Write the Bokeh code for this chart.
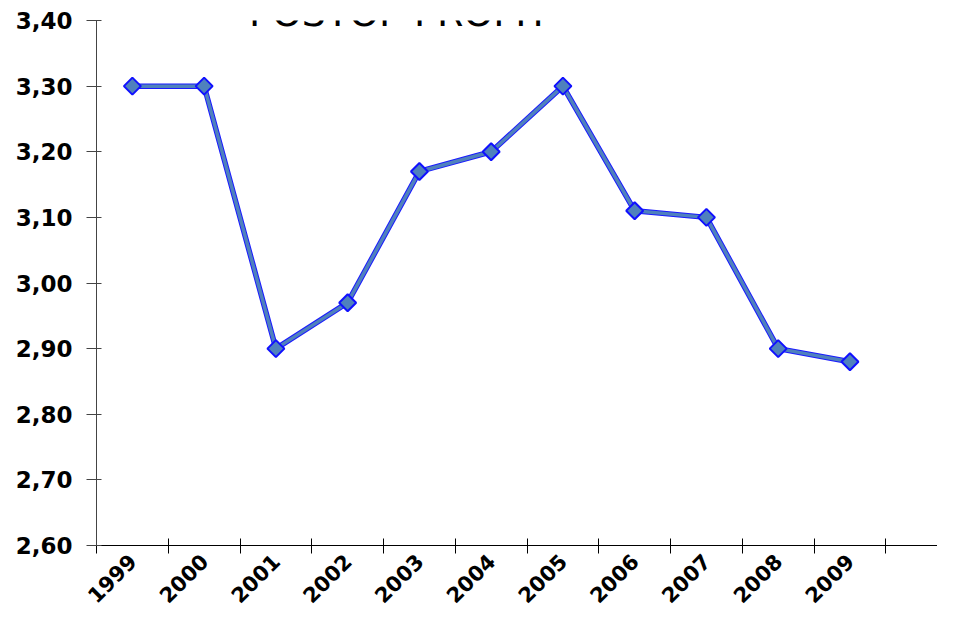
import math
from bokeh.plotting import figure
from bokeh.models import FixedTicker, Label, ColumnDataSource
from bokeh.embed import file_html
from bokeh.resources import INLINE

years = ["1999", "2000", "2001", "2002", "2003", "2004", "2005", "2006", "2007", "2008", "2009"]
values = [3.30, 3.30, 2.90, 2.97, 3.17, 3.20, 3.30, 3.11, 3.10, 2.90, 2.88]
y_ticks = [2.60, 2.70, 2.80, 2.90, 3.00, 3.10, 3.20, 3.30, 3.40]
title_text = "POSTOP PROFIT"

xs = [i + 0.5 for i in range(len(years))]
src = ColumnDataSource(dict(x=xs, y=values))

p = figure(width=937, height=613, output_backend="svg", toolbar_location=None,
           x_range=(0, 11.72), y_range=(2.60, 3.40),
           min_border_left=96, min_border_right=0, min_border_top=20, min_border_bottom=68)
p.outline_line_color = None
p.xgrid.visible = False
p.ygrid.visible = False
p.background_fill_color = "white"
p.border_fill_color = "white"

# line with a blue edge
p.line("x", "y", source=src, line_color="#1a1aff", line_width=5.5)
p.line("x", "y", source=src, line_color="#4F81BD", line_width=3.5)
p.scatter("x", "y", source=src, marker="square", angle=math.pi / 4, size=12,
          fill_color="#4F81BD", line_color="#1010ff", line_width=2)

# x axis
xa = p.xaxis[0]
xa.ticker = FixedTicker(ticks=xs, minor_ticks=list(range(len(years) + 1)))
xa.major_label_overrides = {x: y for x, y in zip(xs, years)}
xa.major_tick_line_color = None
xa.major_tick_in = 0
xa.major_tick_out = 0
xa.minor_tick_in = 7
xa.minor_tick_out = 8
xa.minor_tick_line_color = "black"
xa.axis_line_color = "black"
xa.major_label_orientation = math.pi / 4
xa.major_label_standoff = 4
xa.major_label_text_font = "DejaVu Sans"
xa.major_label_text_font_style = "bold"
xa.major_label_text_font_size = "21px"
xa.major_label_text_color = "black"

# y axis
ya = p.yaxis[0]
ya.ticker = FixedTicker(ticks=y_ticks, minor_ticks=[])
ya.major_label_overrides = {t: f"{t:.2f}".replace(".", ",") for t in y_ticks}
ya.major_tick_in = 5
ya.major_tick_out = 10
ya.major_tick_line_color = "#444444"
ya.axis_line_color = "#444444"
ya.major_label_standoff = 14
ya.major_label_text_font = "DejaVu Sans"
ya.major_label_text_font_style = "bold"
ya.major_label_text_font_size = "23px"
ya.major_label_text_color = "black"

title = Label(x=4.22, y=3.412, text=title_text, text_align="center",
              text_baseline="alphabetic", text_font="DejaVu Sans",
              text_font_size="38px", text_color="black")
p.add_layout(title)

open("out.html", "w").write(file_html(p, INLINE))
